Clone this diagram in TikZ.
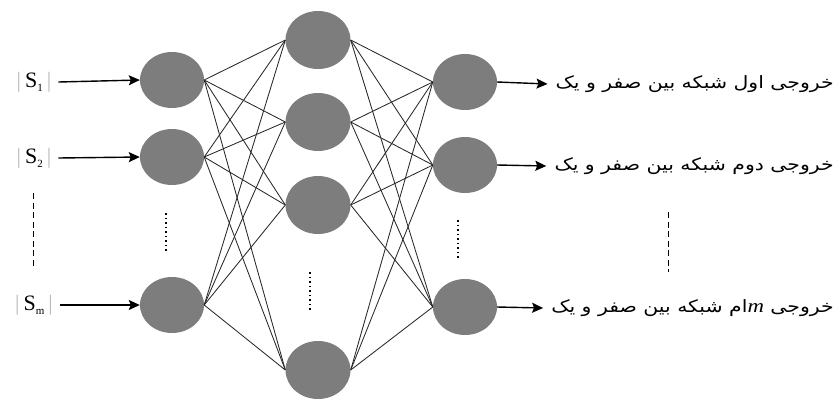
\documentclass[tikz,border=0pt]{standalone}
\usepackage{fontspec}
\setmainfont{Liberation Serif}
\newfontfamily\arabicfont[Script=Arabic]{DejaVu Sans}
\TeXXeTstate=1
\usetikzlibrary{shapes.geometric,arrows.meta}
\definecolor{nodegray}{RGB}{125,125,125}
\definecolor{bargray}{RGB}{185,185,185}
\definecolor{linegray}{RGB}{40,40,40}
\tikzset{
  neuron/.style={ellipse,fill=nodegray,draw=none,minimum width=64pt,minimum height=56pt,inner sep=0pt},
  hneuron/.style={neuron,minimum width=65pt,minimum height=58pt},
  conn/.style={draw=linegray,line width=0.85pt},
  inarrow/.style={draw=black,line width=1.4pt,-{Stealth[length=11pt,width=10pt,inset=2pt]}},
  slabel/.style={inner sep=0pt,font=\fontsize{22}{26}\selectfont},
  olabel/.style={inner sep=0pt,anchor=east,font=\fontsize{17}{20}\selectfont\arabicfont},
  vdots/.style={line width=1.6pt,dash pattern=on 1.5pt off 3pt},
  vdash/.style={line width=1pt,dash pattern=on 6pt off 3.5pt}
}
\newcommand{\bars}[1]{{\color{bargray}|}\hspace{4pt}S\raisebox{-4pt}{\fontsize{11}{12}\selectfont #1}\hspace{4pt}{\color{bargray}|}}
\newcommand{\stretchx}[1]{\scalebox{1.2}[1]{#1}}
\begin{document}
\begin{tikzpicture}[x=1pt,y=-1pt]
\useasboundingbox (0,0) rectangle (836,400);
% input layer
\node[neuron] (i1) at (172,80) {};
\node[neuron] (i2) at (172,157) {};
\node[neuron] (i3) at (172,305) {};
% hidden layer
\node[hneuron] (h1) at (318,40) {};
\node[hneuron] (h2) at (318,122) {};
\node[hneuron] (h3) at (318,205) {};
\node[hneuron] (h4) at (318,370) {};
% output layer
\node[neuron] (o1) at (465,82) {};
\node[neuron] (o2) at (465,165) {};
\node[neuron] (o3) at (465,307) {};
% connections
\foreach \i in {1,2,3}{
  \foreach \h in {1,2,3,4}{
    \draw[conn] (i\i.east) -- (h\h.west);
    \draw[conn] (h\h.east) -- (o\i.west);
  }
}
% dots
\coordinate (d1a) at (166,213); \coordinate (d1b) at (166,252);
\coordinate (d2a) at (310,272); \coordinate (d2b) at (310,312);
\coordinate (d3a) at (458,220); \coordinate (d3b) at (458,258);
\draw[vdots] (d1a) -- (d1b);
\draw[vdots] (d2a) -- (d2b);
\draw[vdots] (d3a) -- (d3b);
% input labels
\node[slabel] (s1) at (34,82) {\bars{1}};
\node[slabel] (s2) at (34,158) {\bars{2}};
\node[slabel] (s3) at (34,305) {\bars{m}};
\draw[inarrow] ([xshift=7pt]s1.east) -- (i1.west);
\draw[inarrow] ([xshift=7pt]s2.east) -- (i2.west);
\draw[inarrow] ([xshift=7pt]s3.east) -- (i3.west);
\coordinate (l1) at (33,193); \coordinate (l2) at (33,268);
\draw[vdash] (l1) -- (l2);
% output labels
\node[olabel] (t1) at (834,84) {\stretchx{\beginR خروجی اول شبکه بین صفر و یک\endR}};
\node[olabel] (t2) at (834,166) {\stretchx{\beginR خروجی دوم شبکه بین صفر و یک\endR}};
\node[olabel] (t3) at (834,308) {\stretchx{\beginR خروجی \beginL\textit{\fontspec{Liberation Serif}\fontsize{19}{20}\selectfont m}\endL ام شبکه بین صفر و یک\endR}};
\draw[inarrow] (o1.east) -- ([xshift=-8pt]t1.west);
\draw[inarrow] (o2.east) -- ([xshift=-8pt]t2.west);
\draw[inarrow] (o3.east) -- ([xshift=-8pt]t3.west);
\coordinate (r1) at (668,212); \coordinate (r2) at (668,272);
\draw[vdash] (r1) -- (r2);
\end{tikzpicture}
\end{document}
